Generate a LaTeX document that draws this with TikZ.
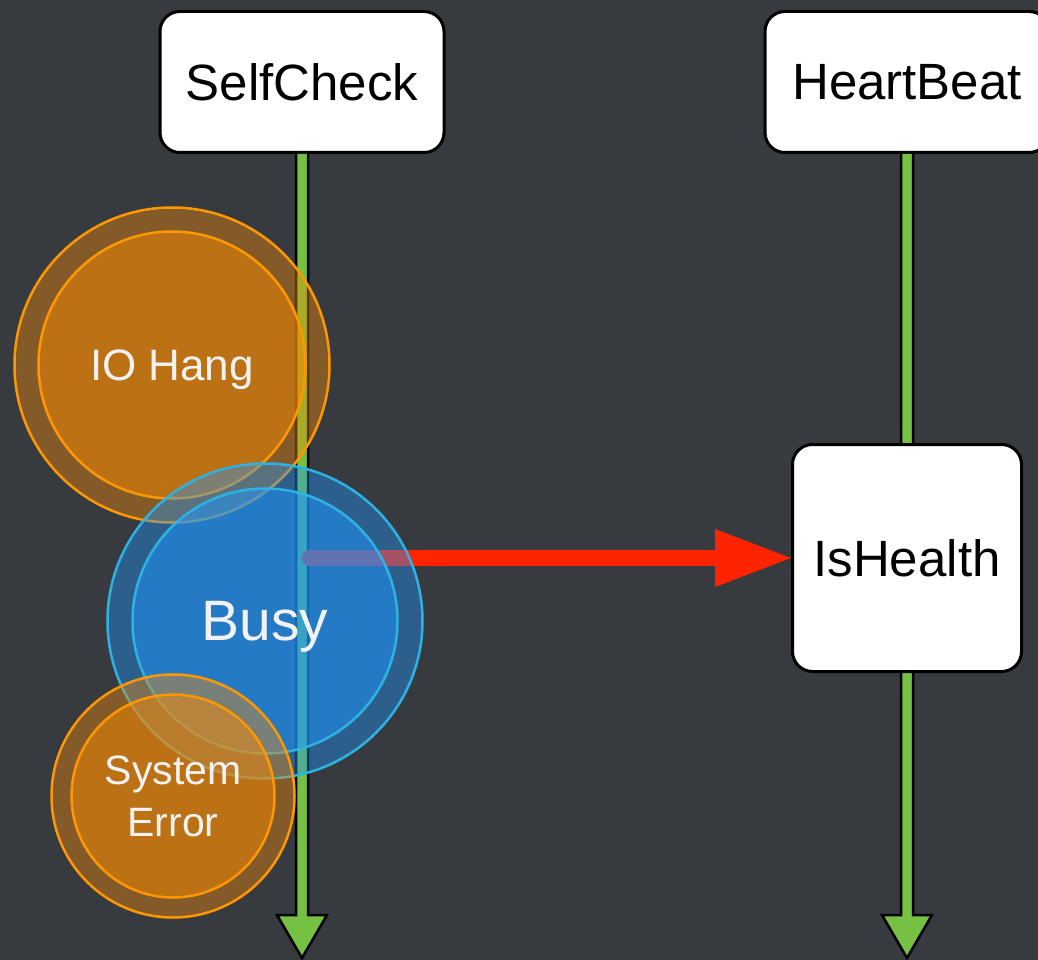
\documentclass[tikz,border=0pt]{standalone}
\usepackage{fontspec}
\setmainfont{Liberation Sans}
\usepackage{tikz}
\usetikzlibrary{arrows.meta, calc, positioning}
\definecolor{slate}{RGB}{55,59,64}
\definecolor{leaf}{RGB}{118,192,67}
\definecolor{alarm}{RGB}{255,36,0}
\definecolor{amber}{RGB}{245,137,4}
\definecolor{amberline}{RGB}{255,152,0}
\definecolor{sky}{RGB}{30,150,255}
\definecolor{skyline}{RGB}{45,178,228}
\definecolor{chalk}{RGB}{242,242,242}
\tikzset{
	lifeline/.style = {draw=black, fill=leaf, line width=2.5pt, line join=miter},
	halo/.style = {circle, draw=#1line, line width=2.5pt, fill=#1, fill opacity=0.4},
	core/.style = {circle, draw=#1line, line width=2.5pt, fill=#1, fill opacity=0.5, text opacity=1, text=chalk, align=center}
}

\begin{document}
\begin{tikzpicture}[x=1pt, y=-1pt, >=Latex]
            \tikzstyle{box} = [draw, fill=white, line width=3pt, rounded corners=20pt,
                minimum width=284pt, minimum height=141pt, font=\fontsize{51}{60}\selectfont]
            \tikzstyle{event} = [coordinate]
            \useasboundingbox (0,0) rectangle (1038,960);
            \fill [slate] (0,0) rectangle (1038,960);

            \node [box] (selfcheck) at (302,82) {SelfCheck};
            \node [box, right of=selfcheck, node distance=605pt] (heartbeat) {HeartBeat};
            \node [event] (scEnd) at (302,958) {};
            \node [event] (hbEnd) at (907,958) {};

            \draw [lifeline] ($(selfcheck.south)+(-6,0)$) -- ($(scEnd)+(-6,-43)$) -- ($(scEnd)+(-25,-43)$)
                -- (scEnd) -- ($(scEnd)+(25,-43)$) -- ($(scEnd)+(6,-43)$) -- ($(selfcheck.south)+(6,0)$);
            \draw [lifeline] ($(heartbeat.south)+(-6,0)$) -- ($(hbEnd)+(-6,-43)$) -- ($(hbEnd)+(-25,-43)$)
                -- (hbEnd) -- ($(hbEnd)+(25,-43)$) -- ($(hbEnd)+(6,-43)$) -- ($(heartbeat.south)+(6,0)$);

            \node [box, below of=heartbeat, node distance=476pt, minimum width=229pt,
                minimum height=227pt] (ishealth) {IsHealth};
            \node [event] (probe) at ($(selfcheck.south |- ishealth.west)+(8,0)$) {};
            \draw [alarm, line width=16.5pt, line cap=round,
                -{Triangle[length=76pt, width=58pt, line width=0pt]}] (probe) -- (ishealth.west);

            \node [halo=amber, minimum size=315pt] (ioRing) at (172,365) {};
            \node [core=amber, minimum size=267pt, text depth=0pt, font=\fontsize{44}{52}\selectfont] (iohang) at (ioRing) {IO Hang};
            \node [halo=sky, minimum size=315pt] (busyRing) at (265,621) {};
            \node [core=sky, minimum size=265pt, text depth=0pt, font=\fontsize{57}{66}\selectfont] (busy) at (busyRing) {Busy};
            \node [halo=amber, minimum size=243pt] (errRing) at (173,796) {};
            \node [core=amber, minimum size=203pt, font=\fontsize{41}{52}\selectfont] (syserror) at (errRing) {System\\Error};

        \end{tikzpicture}
\end{document}
